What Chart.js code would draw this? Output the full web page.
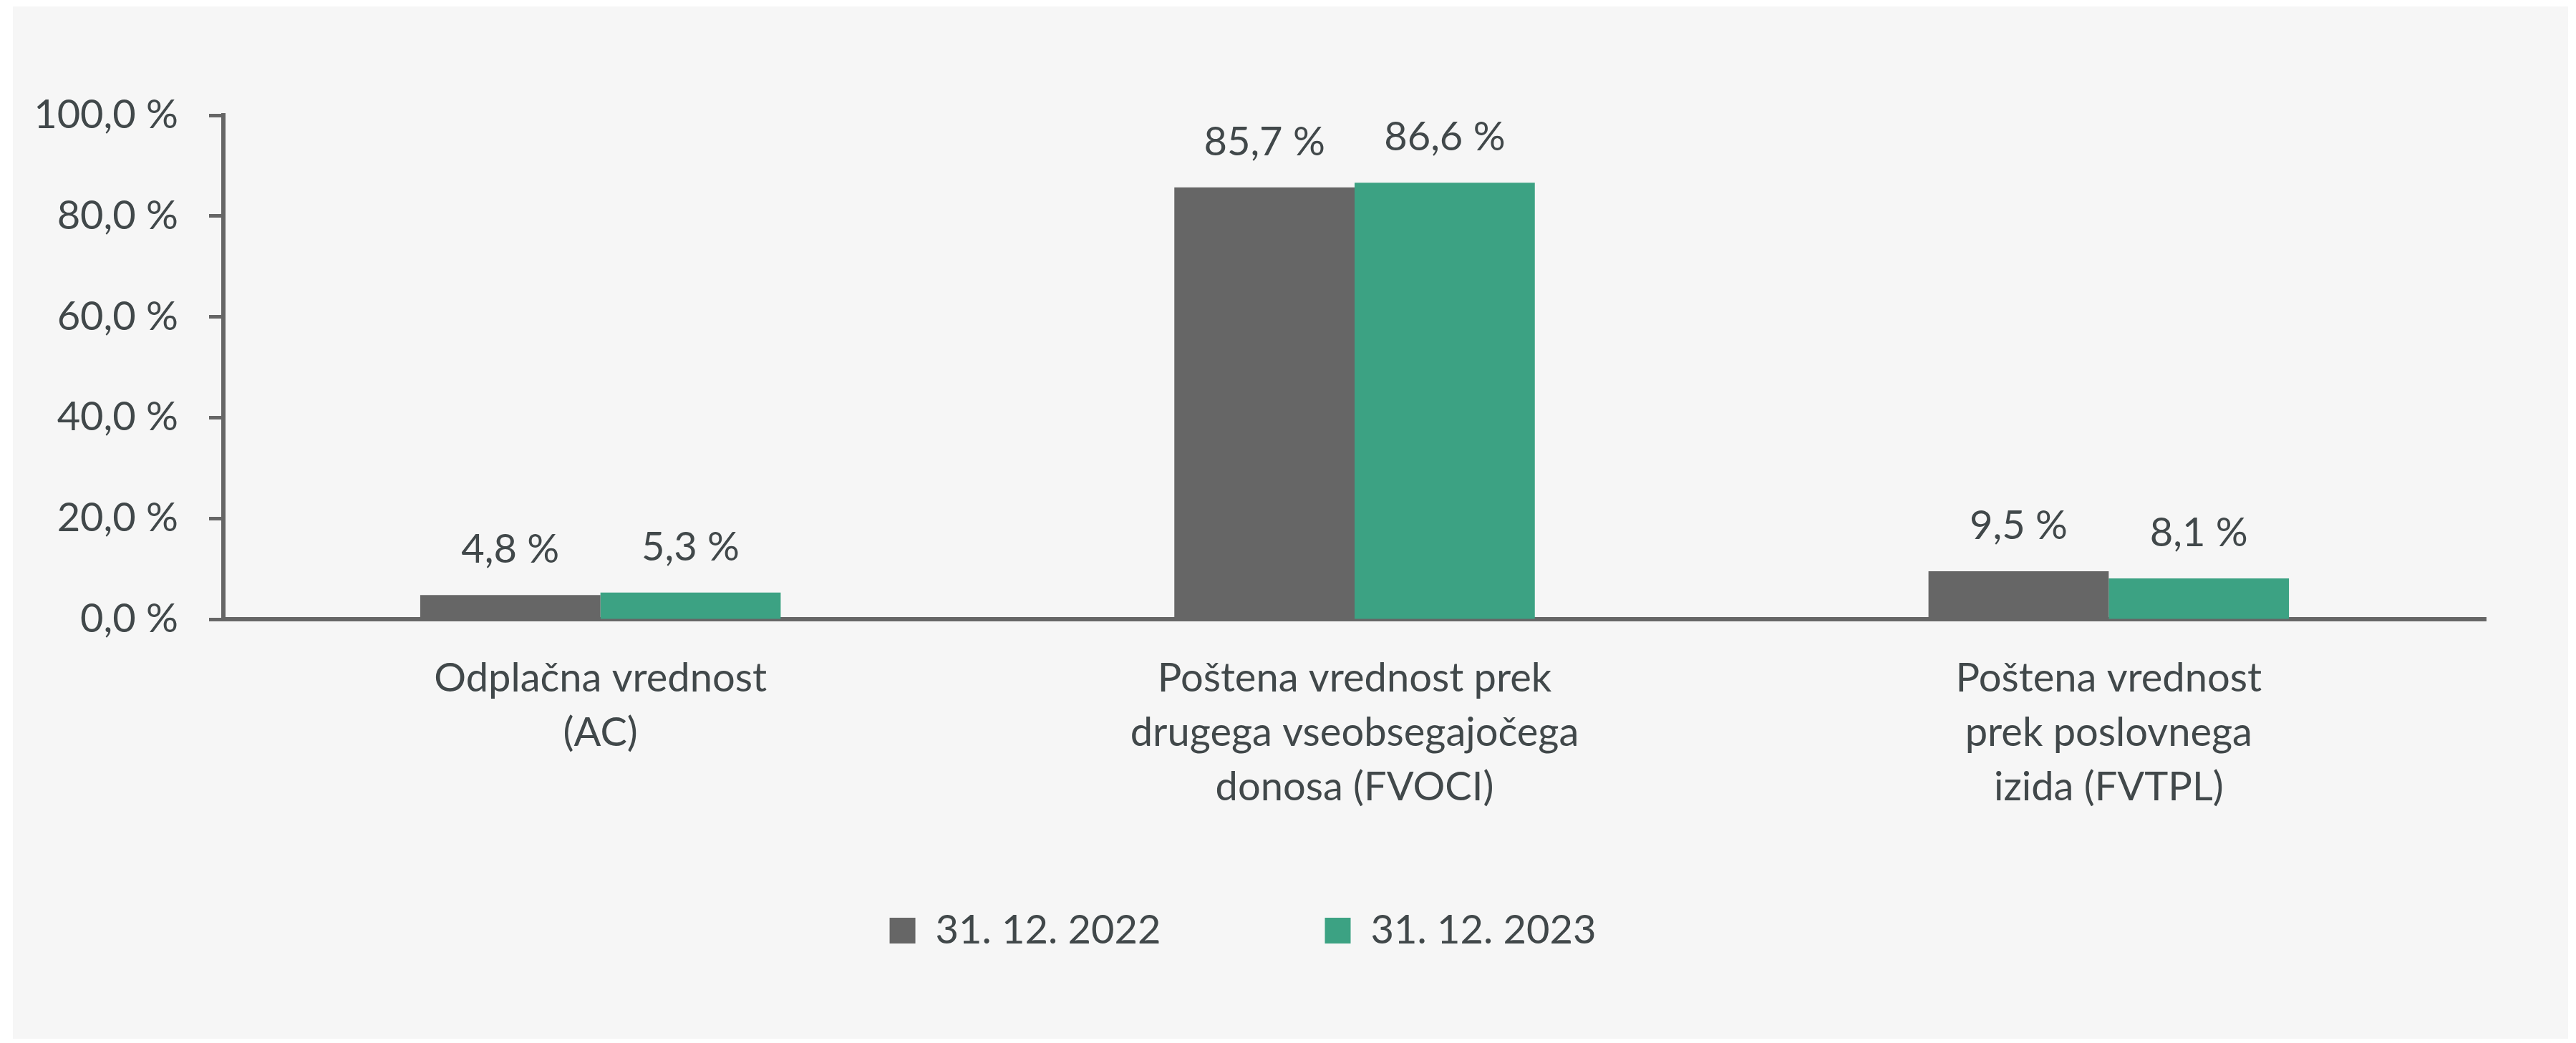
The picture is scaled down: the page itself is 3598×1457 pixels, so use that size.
<!DOCTYPE html>
<html>
<head>
<meta charset="utf-8">
<script src="https://cdn.jsdelivr.net/npm/chart.js@4"></script>
<style>
  html, body { margin: 0; padding: 0; background: #ffffff; }
  canvas { display: block; }
</style>
</head>
<body>
<canvas id="chart" width="3598" height="1457"></canvas>
<script>
const categories = [
  ["Odplačna vrednost", "(AC)"],
  ["Poštena vrednost prek", "drugega vseobsegajočega", "donosa (FVOCI)"],
  ["Poštena vrednost", "prek poslovnega", "izida (FVTPL)"],
];
const seriesNames = ["31. 12. 2022", "31. 12. 2023"];
const values2022 = [4.8, 85.7, 9.5];
const values2023 = [5.3, 86.6, 8.1];
const yTickLabels = ["0,0 %", "20,0 %", "40,0 %", "60,0 %", "80,0 %", "100,0 %"];

const textColor = "#41484a";
const axisColor = "#666666";
const fontFamily = "Lato, 'Open Sans', sans-serif";

const fmt = (v) => v.toFixed(1).replace(".", ",") + " %";

// grey panel behind the chart
const panelBg = {
  id: "panelBg",
  beforeDraw(chart) {
    const { ctx } = chart;
    ctx.save();
    ctx.fillStyle = "#ffffff";
    ctx.fillRect(0, 0, chart.width, chart.height);
    ctx.fillStyle = "#f6f6f6";
    ctx.fillRect(18, 9, 3569, 1442);
    ctx.restore();
  },
};

// the x axis needs room for three label lines, so pull the legend back up
const legendLift = {
  id: "legendLift",
  afterLayout(chart) {
    const lg = chart.legend;
    if (!lg) return;
    lg.top -= 112;
    lg.bottom -= 112;
  },
};

// value labels above each bar
const barValues = {
  id: "barValues",
  afterDatasetsDraw(chart) {
    const { ctx } = chart;
    ctx.save();
    ctx.font = "56px " + fontFamily;
    ctx.fillStyle = textColor;
    ctx.textAlign = "center";
    ctx.textBaseline = "alphabetic";
    chart.data.datasets.forEach((ds, i) => {
      chart.getDatasetMeta(i).data.forEach((bar, j) => {
        ctx.fillText(fmt(ds.data[j]), bar.x, bar.y - 45);
      });
    });
    ctx.restore();
  },
};

new Chart(document.getElementById("chart"), {
  type: "bar",
  data: {
    labels: categories,
    datasets: [
      {
        label: seriesNames[0],
        data: values2022,
        backgroundColor: "#666666",
      },
      {
        label: seriesNames[1],
        data: values2023,
        backgroundColor: "#3ca283",
      },
    ],
  },
  options: {
    responsive: false,
    animation: false,
    devicePixelRatio: 1,
    layout: {
      padding: { top: 161, right: 126, left: 0, bottom: 7 },
    },
    datasets: {
      bar: {
        categoryPercentage: 0.478,
        barPercentage: 1,
      },
    },
    plugins: {
      tooltip: { enabled: false },
      legend: {
        position: "bottom",
        labels: {
          color: textColor,
          font: { family: fontFamily, size: 56 },
          boxWidth: 36,
          boxHeight: 36,
          padding: 229,
        },
      },
    },
    scales: {
      x: {
        afterFit(scale) {
          scale.height = 290;
        },
        grid: { display: false, drawTicks: false },
        border: { display: true, color: axisColor, width: 6 },
        ticks: {
          color: textColor,
          padding: 45,
          maxRotation: 0,
          autoSkip: false,
          font: { family: fontFamily, size: 56, lineHeight: 1.36 },
        },
      },
      y: {
        min: 0,
        max: 100,
        afterFit(scale) {
          scale.width = 312;
        },
        grid: {
          drawOnChartArea: false,
          drawTicks: true,
          tickLength: 20,
          tickWidth: 5,
          tickColor: axisColor,
          color: axisColor,
        },
        border: { display: true, color: axisColor, width: 6 },
        ticks: {
          stepSize: 20,
          padding: 43,
          color: textColor,
          font: { family: fontFamily, size: 56 },
          callback: (value, index) => yTickLabels[index],
        },
      },
    },
  },
  plugins: [panelBg, legendLift, barValues],
});
</script>
</body>
</html>
